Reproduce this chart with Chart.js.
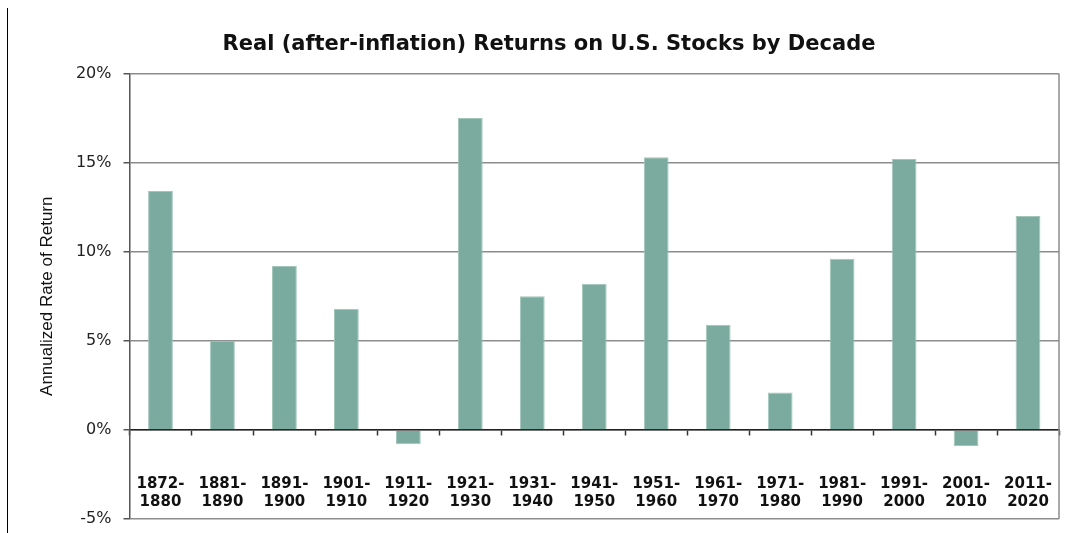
<!DOCTYPE html>
<html>
<head>
<meta charset="utf-8">
<title>Real Returns on U.S. Stocks by Decade</title>
<script src="https://cdn.jsdelivr.net/npm/chart.js@4"></script>
<style>
  html, body { margin: 0; padding: 0; background: #fff; }
  #wrap { position: relative; width: 1071px; height: 533px; }
  #edge { position: absolute; left: 7px; top: 8px; height: 525px; border-left: 1.5px solid #000; }
</style>
</head>
<body>
<div id="wrap">
  <div id="edge"></div>
  <canvas id="chart" width="1071" height="533"></canvas>
</div>
<script>
// decades on the x axis (two-line labels)
const decades = [
  ['1872-', '1880'], ['1881-', '1890'], ['1891-', '1900'], ['1901-', '1910'],
  ['1911-', '1920'], ['1921-', '1930'], ['1931-', '1940'], ['1941-', '1950'],
  ['1951-', '1960'], ['1961-', '1970'], ['1971-', '1980'], ['1981-', '1990'],
  ['1991-', '2000'], ['2001-', '2010'], ['2011-', '2020']
];
// annualized real return, percent
const realReturns = [13.4, 5.0, 9.2, 6.8, -0.8, 17.5, 7.5, 8.2, 15.3, 5.9, 2.1, 9.6, 15.2, -0.9, 12.0];
// y axis range and step, percent
const yMin = -5;
const yMax = 20;
const yStep = 5;

// right side of the plot frame
const frame = {
  id: 'frame',
  afterDraw(chart) {
    const { ctx, chartArea } = chart;
    ctx.save();
    ctx.strokeStyle = '#8c8c8c';
    ctx.lineWidth = 1.5;
    ctx.beginPath();
    ctx.moveTo(chartArea.right, chartArea.top);
    ctx.lineTo(chartArea.right, chartArea.bottom);
    ctx.stroke();
    ctx.restore();
  }
};

// labels sit inside the padding already, so no extra room for them
function noPadding(scale) {
  scale.paddingLeft = 0;
  scale.paddingRight = 0;
  scale.paddingTop = 0;
  scale.paddingBottom = 0;
}

const ctx = document.getElementById('chart').getContext('2d');
new Chart(ctx, {
  type: 'bar',
  data: {
    labels: decades,
    datasets: [{
      data: realReturns,
      backgroundColor: '#7baa9e',
      borderColor: '#a3c6bb',
      borderWidth: 1,
      barPercentage: 0.4,
      categoryPercentage: 1
    }]
  },
  options: {
    responsive: false,
    animation: false,
    layout: { padding: { left: 39, right: 12, top: 0, bottom: 14 } },
    plugins: {
      legend: { display: false },
      tooltip: { enabled: false },
      title: {
        display: true,
        text: 'Real (after-inflation) Returns on U.S. Stocks by Decade',
        color: '#111',
        font: { family: 'DejaVu Sans', size: 21, weight: 'bold', lineHeight: 1.2 },
        padding: { top: 32, bottom: 16.3 }
      }
    },
    scales: {
      x: {
        position: { y: 0 },
        offset: true,
        afterFit: noPadding,
        grid: {
          drawOnChartArea: false,
          drawTicks: true,
          tickLength: 5,
          tickColor: '#333',
          tickWidth: 1.5
        },
        border: { color: '#222', width: 1.5 },
        ticks: {
          padding: 40,
          autoSkip: false,
          maxRotation: 0,
          color: '#111',
          font: { family: 'DejaVu Sans', size: 15, weight: 'bold', lineHeight: 1.2 }
        }
      },
      y: {
        min: yMin,
        max: yMax,
        afterFit(scale) {
          noPadding(scale);
          scale.width = 90.5;
        },
        ticks: {
          stepSize: yStep,
          padding: 12,
          color: '#222',
          font: { family: 'DejaVu Sans', size: 16 },
          callback: v => v + '%'
        },
        grid: {
          color: '#8c8c8c',
          lineWidth: 1.5,
          tickLength: 6,
          tickColor: '#555'
        },
        border: { color: '#555', width: 1.5 },
        title: {
          display: true,
          text: 'Annualized Rate of Return',
          color: '#111',
          padding: 0,
          font: { family: 'Liberation Sans', size: 17, lineHeight: 1 }
        }
      }
    }
  },
  plugins: [frame]
});
</script>
</body>
</html>
